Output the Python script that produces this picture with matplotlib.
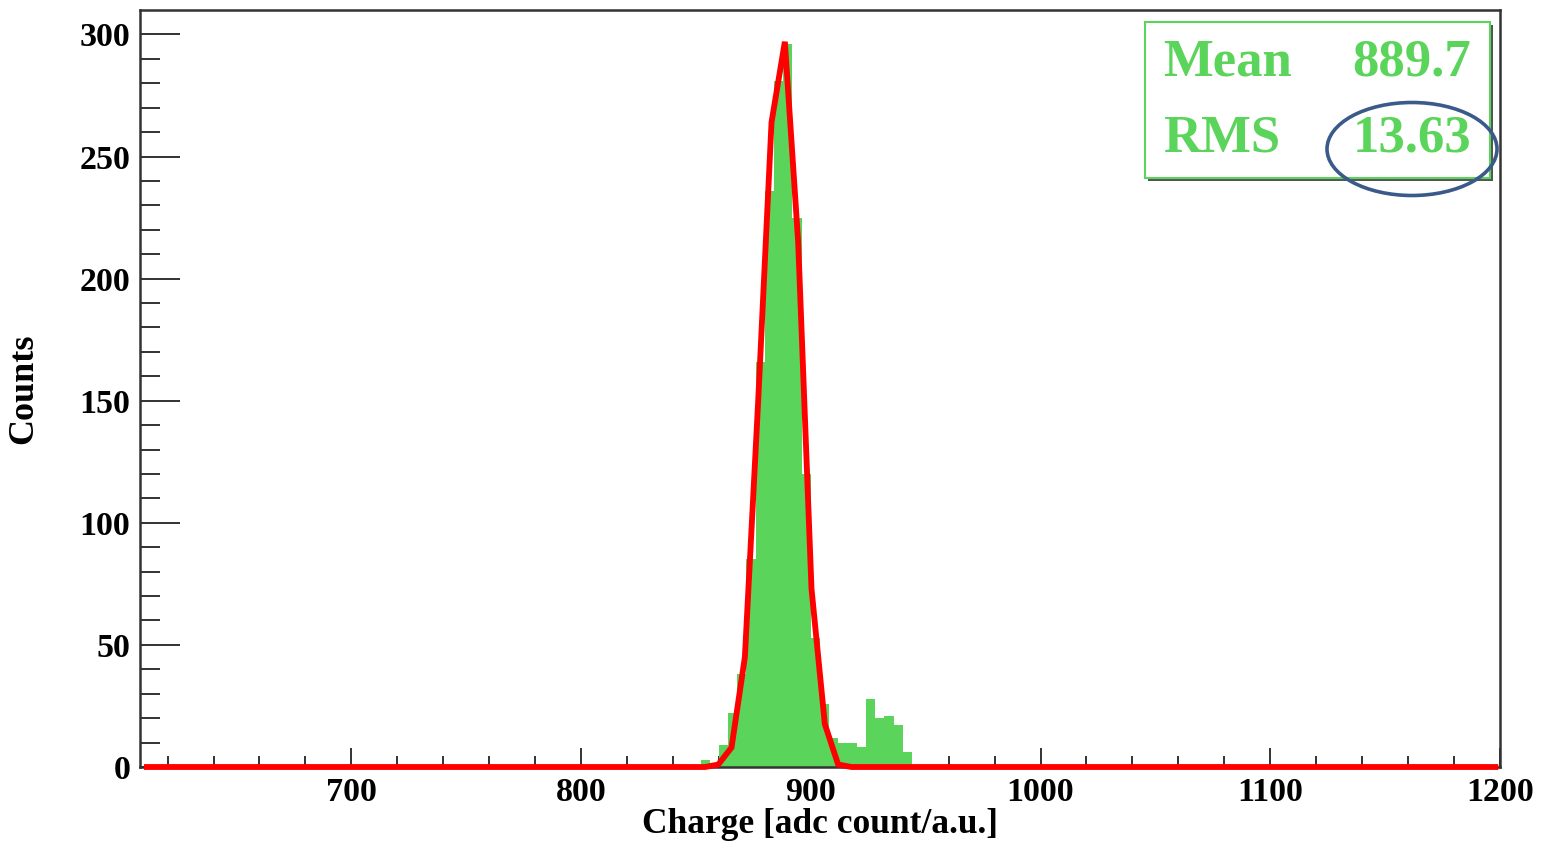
import numpy as np
import matplotlib
matplotlib.use('Agg')
import matplotlib.pyplot as plt
from matplotlib.patches import Rectangle, Ellipse

# histogram bins (left edge, width 4) and counts
bin_left = [852, 856, 860, 864, 868, 872, 876, 880, 884, 888, 892, 896,
            900, 904, 908, 912, 916, 920, 924, 928, 932, 936, 940]
counts = [3, 1, 9, 22, 38, 85, 166, 236, 281, 296, 225, 120,
          53, 26, 12, 10, 10, 8, 28, 20, 21, 17, 6]
bin_width = 4

# gaussian fit drawn as a polyline
fit_x = [611, 854.0, 859.7, 865.5, 871.3, 877.1, 882.9, 888.7, 894.5,
         900.3, 906.1, 911.9, 917.7, 1198]
fit_y = [0, 0, 1, 8, 45, 150, 264, 297, 215, 73, 17.6, 1, 0, 0]

stat_names = ['Mean', 'RMS']
stat_values = ['889.7', '13.63']

xticks = [700, 800, 900, 1000, 1100, 1200]
yticks = [0, 50, 100, 150, 200, 250, 300]

green = '#5ad45a'
W, H = 1549, 841

def fx(px):
    return px / W

def fy(py):
    return 1 - py / H

plt.rcParams['font.family'] = ['Liberation Serif', 'DejaVu Serif']
plt.rcParams['font.weight'] = 'bold'

fig = plt.figure(figsize=(W / 100, H / 100), dpi=100)
ax = fig.add_axes([fx(140), fy(767), fx(1500) - fx(140), fy(10) - fy(767)])

ax.bar(bin_left, counts, width=bin_width, align='edge', color=green,
       linewidth=0, zorder=2)
ax.plot(fit_x, fit_y, color='#ff0000', lw=4.2, zorder=3, clip_on=False,
        solid_joinstyle='miter')

ax.set_xlim(608, 1200)
ax.set_ylim(0, 310)
ax.set_xticks(xticks)
ax.set_xticks(np.arange(620, 1200, 20), minor=True)
ax.set_yticks(yticks)
ax.set_yticks(np.arange(0, 310, 10), minor=True)
ax.tick_params(axis='y', which='major', direction='in', length=29, width=1.3,
               labelsize=24.5, pad=7, colors='#222222')
ax.tick_params(axis='y', which='minor', direction='in', length=14.5, width=1.3,
               colors='#222222')
ax.tick_params(axis='x', which='major', direction='in', length=14, width=1.3,
               labelsize=24.5, pad=7, colors='#222222')
ax.tick_params(axis='x', which='minor', direction='in', length=8, width=1.3,
               colors='#222222')
for lab in ax.get_xticklabels() + ax.get_yticklabels():
    lab.set_color('black')
    lab.set_fontweight('bold')
for s in ax.spines.values():
    s.set_linewidth(1.8)
    s.set_color('#333333')

ax.set_xlabel('Charge [adc count/a.u.]', fontsize=25.5, fontweight='bold',
              labelpad=0)
ax.set_ylabel('Counts', fontsize=26, fontweight='bold', labelpad=28)

# stats box with shadow
shadow = Rectangle((fx(1148), fy(181)), fx(1490) - fx(1145), fy(22) - fy(178),
                   transform=fig.transFigure, facecolor='#555555',
                   edgecolor='none', zorder=5)
box = Rectangle((fx(1145), fy(178)), fx(1490) - fx(1145), fy(22) - fy(178),
                transform=fig.transFigure, facecolor='white',
                edgecolor=green, lw=1.5, zorder=6)
fig.patches.extend([shadow, box])
row_y = [62, 138]
for name, val, py in zip(stat_names, stat_values, row_y):
    fig.text(fx(1163), fy(py), name, color=green, fontsize=38,
             fontweight='bold', ha='left', va='center', zorder=7)
    fig.text(fx(1471), fy(py), val, color=green, fontsize=38,
             fontweight='bold', ha='right', va='center', zorder=7)

# highlight around the RMS value
ell = Ellipse((fx(1412), fy(149)), fx(170), 93 / H, transform=fig.transFigure,
              fill=False, edgecolor='#3a5a8a', lw=2.6, zorder=8)
fig.patches.append(ell)

plt.savefig('out.png', dpi=100)
